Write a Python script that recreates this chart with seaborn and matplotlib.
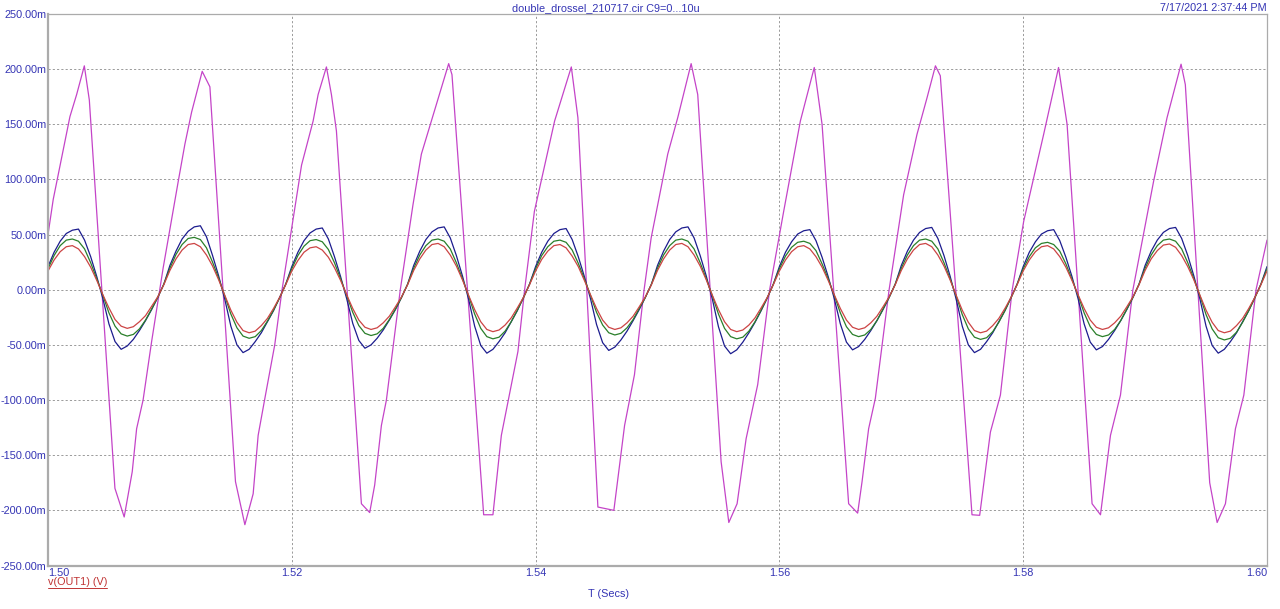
import numpy as np
import pandas as pd
import matplotlib
matplotlib.use("Agg")
import matplotlib.pyplot as plt
from matplotlib.lines import Line2D
import seaborn as sns

# ---------------- data (values in mV, time in s) ----------------
title_text = "double_drossel_210717.cir C9=0...10u"
date_text = "7/17/2021 2:37:44 PM"
x_label = "T (Secs)"
y_label = "v(OUT1) (V)"

x_ticks = [1.50, 1.52, 1.54, 1.56, 1.58, 1.60]
x_tick_labels = ["1.50", "1.52", "1.54", "1.56", "1.58", "1.60"]
y_ticks = [-250, -200, -150, -100, -50, 0, 50, 100, 150, 200, 250]

# small curves sampled every 0.5 ms from 1.500 s to 1.600 s (one row per 10 ms period)
t_grid = np.linspace(1.50, 1.60, 201)

blue_vals = [
    21, 34, 44, 51, 54, 55, 45, 30, 12, -8, -31, -47, -54, -51, -45, -37, -28, -18, -7, 5,
    22, 35, 46, 53, 57, 58, 48, 31, 12.5, -8.5, -33, -50, -57, -54, -47, -39, -29, -19, -7, 5,
    21, 34, 44.5, 51.5, 55, 56, 46, 30, 12, -8, -30.5, -46, -53, -50, -44, -36.5, -27.5, -18, -7, 5,
    22, 35, 45.5, 52.5, 56, 57, 47, 31, 12.5, -8.5, -33, -50.5, -57.5, -54, -47, -39, -29, -19, -7, 5,
    21, 34, 44, 51, 54.5, 55.5, 45.5, 30, 12, -8, -31.5, -48, -55, -52, -45.5, -37.5, -28, -18, -7, 5,
    22, 35, 45.5, 52.5, 56, 57, 47, 31, 12.5, -8.5, -33.5, -51, -58, -54.5, -47.5, -39, -29.5, -19, -7.5, 5,
    21, 34, 43.5, 50.5, 53.5, 54.5, 44.5, 29.5, 12, -8, -31, -47.5, -54.5, -51.5, -45, -37, -28, -18, -7, 5,
    22, 35, 45, 52, 55.5, 56.5, 46.5, 31, 12.5, -8.5, -33, -50, -57, -54, -47, -39, -29, -19, -7, 5,
    21, 34, 43.5, 50.5, 53.5, 54.5, 44.5, 29.5, 12, -8, -31, -47.5, -54.5, -51.5, -45, -37, -28, -18, -7, 5,
    22, 35, 45, 52, 55.5, 56.5, 46.5, 31, 12.5, -8.5, -33, -50.5, -57.5, -54, -47, -39, -29, -19, -7, 5,
    21,
]

green_vals = [
    19, 31, 40, 45, 46, 44, 37, 24.5, 10, -5, -21, -33, -40, -42, -40.5, -35.5, -27.5, -17.5, -7, 5,
    19.5, 32, 41, 46.5, 47.5, 45.5, 38, 25, 10.5, -5.5, -22, -34.5, -42, -44, -42.5, -37, -28.5, -18.5, -7.5, 5,
    19, 31, 39.5, 44.5, 45.5, 43.5, 36.5, 24.5, 10, -5, -20.5, -32.5, -39.5, -41.5, -40, -35, -27, -17.5, -7, 5,
    19.5, 31.5, 40, 45, 46, 44, 37, 24.5, 10, -5.5, -22, -35, -42.5, -44.5, -43, -37.5, -29, -18.5, -7.5, 5,
    19, 31, 39, 44, 45, 43, 36, 24, 10, -5, -20.5, -32, -39, -41, -39.5, -34.5, -27, -17, -7, 5,
    19.5, 31.5, 40, 45, 46, 44, 37, 24.5, 10, -5.5, -22, -35, -42.5, -44.5, -43, -37.5, -29, -18.5, -7.5, 5,
    19, 30.5, 38.5, 43, 44, 42, 35.5, 23.5, 10, -5, -21, -33.5, -40.5, -42.5, -41, -36, -28, -17.5, -7, 5,
    19.5, 31.5, 40, 45, 46, 44, 37, 24.5, 10, -5.5, -22.5, -35.5, -43, -45, -43.5, -38, -29.5, -19, -7.5, 5,
    19, 30, 38, 42, 43, 41, 35, 23.5, 9.5, -5, -21, -33.5, -40.5, -42.5, -41, -36, -28, -17.5, -7, 5,
    19.5, 31.5, 40, 45, 46, 44, 37, 24.5, 10, -5.5, -22.5, -35.5, -43.5, -45.5, -44, -38.5, -29.5, -19, -7.5, 5,
    19,
]

red_vals = [
    17, 27, 34.5, 39, 40, 37, 30, 20.5, 8.5, -4.5, -16.5, -27, -33, -35, -33.5, -29, -23.5, -15, -6.5, 4.5,
    17.5, 28, 36, 41, 42, 39, 31.5, 21.5, 9, -5, -18.5, -29.5, -37, -39, -37.5, -32.5, -26, -17, -7, 4.5,
    17, 26.5, 34, 38, 39, 36, 29.5, 20, 8.5, -4.5, -17, -27.5, -34, -36, -34.5, -30, -24, -15.5, -6.5, 4.5,
    17.5, 28, 36, 41, 42, 39, 31.5, 21.5, 9, -5, -18, -29, -36, -38, -36.5, -32, -25.5, -16.5, -7, 4.5,
    17, 27.5, 35, 40, 41, 38, 30.5, 21, 8.5, -4.5, -17, -27.5, -34, -36, -34.5, -30, -24, -15.5, -6.5, 4.5,
    17.5, 28, 36, 41, 42, 39, 31.5, 21.5, 9, -5, -18, -29, -36, -38, -36.5, -32, -25.5, -16.5, -7, 4.5,
    17, 27, 34.5, 39, 40, 37, 30, 20.5, 8.5, -4.5, -17, -27.5, -34, -36, -34.5, -30, -24, -15.5, -6.5, 4.5,
    17.5, 28, 36, 41, 42, 39, 31.5, 21.5, 9, -5, -18.5, -29.5, -37, -39, -37.5, -32.5, -26, -17, -7, 4.5,
    17, 27, 34.5, 39, 40, 37, 30, 20.5, 8.5, -4.5, -17, -27.5, -34, -36, -34.5, -30, -24, -15.5, -6.5, 4.5,
    17.5, 28, 35.5, 40.5, 41.5, 38.5, 31, 21, 9, -5, -18.5, -29.5, -37, -39, -37.5, -32.5, -26, -17, -7, 4.5,
    17,
]

# magenta trace: simulator vertices (ms after 1.500 s) and values (mV)
magenta_ms = [
    0, 0.43, 1.8, 2.35, 2.98, 3.39, 5.49, 6.25, 6.91, 7.27, 7.8, 8.5, 9.45,
    10.68, 11.23, 11.78, 12.65, 13.28, 15.38, 16.15, 16.83, 17.24, 17.79, 18.6, 19.2,
    20.8, 21.75, 22.16, 22.84, 23.25, 23.66, 25.71, 26.39, 26.8, 27.35, 27.76, 28.9,
    29.94, 30.63, 31.86, 32.87, 33.14, 33.63, 35.74, 36.5, 37.19, 38.55, 39.1,
    39.9, 41.56, 42.93, 43.47, 45.11, 46.42, 47.3, 48.11, 48.9,
    49.48, 50.84, 51.66, 52.76, 53.3, 55.22, 55.85, 56.53, 57.27, 58.22, 59.2,
    60.35, 61.72, 62.86, 63.5, 65.68, 66.42, 66.78, 67.32, 67.87, 69.0,
    70.19, 71.29, 72.11, 72.8, 73.2, 75.8, 76.43, 77.31, 78.13, 79.1,
    80.04, 81.68, 82.9, 83.6, 85.65, 86.34, 87.16, 87.98, 89.0,
    90.7, 91.8, 92.95, 93.3, 95.3, 95.91, 96.59, 97.41, 98.1, 99.1, 100.0,
]
magenta_vals = [
    50, 82, 157, 177, 203, 172, -180, -206, -165, -126, -100, -47, 20,
    98, 132, 161, 198, 184, -174, -213, -185, -132, -98.5, -50, 0,
    113, 153, 177, 202, 177, 144, -194, -202, -177, -123, -100, 0,
    77, 123, 168, 205, 195, 120, -204, -204, -132, -56, 0,
    71, 153, 202, 156, -197, -200, -123, -77, 0,
    47, 123, 156, 205, 177, -156, -211, -194, -135, -86, 0,
    71, 153, 201.5, 150, -194, -202.5, -174, -126, -98.5, 0,
    86, 141, 174, 203, 194, -204, -204.5, -129, -95.5, 0,
    62, 141, 201.5, 150, -194, -204, -132, -95.5, 0,
    98.5, 156, 204.5, 186, -175, -211, -194, -126, -95.5, 0, 45,
]

colors = {
    "magenta": "#c444c8",
    "blue": "#1c1c8e",
    "green": "#2a7f2a",
    "red": "#cc4444",
}
label_blue = "#3434b4"

# ---------------- build frames ----------------
frames = [
    pd.DataFrame({"t": 1.50 + np.array(magenta_ms) / 1000.0, "v": magenta_vals, "s": "magenta"}),
    pd.DataFrame({"t": t_grid, "v": blue_vals, "s": "blue"}),
    pd.DataFrame({"t": t_grid, "v": green_vals, "s": "green"}),
    pd.DataFrame({"t": t_grid, "v": red_vals, "s": "red"}),
]

sns.set_theme(style="white")
plt.rcParams["font.family"] = ["Liberation Sans", "DejaVu Sans"]

W, H = 1280, 609
fig = plt.figure(figsize=(W / 100, H / 100), dpi=100)
left, right, top, bottom = 48, 1267, 14, 565.5
ax = fig.add_axes([left / W, 1 - bottom / H, (right - left) / W, (bottom - top) / H])

for df in frames:
    name = df["s"].iloc[0]
    sns.lineplot(data=df, x="t", y="v", estimator=None, sort=False, color=colors[name],
                 lw=0.9, ax=ax, legend=False)

ax.set_xlim(1.50, 1.60)
ax.set_ylim(-250, 250)
ax.set_xticks(x_ticks)
ax.set_xticklabels(x_tick_labels)
ax.set_yticks(y_ticks)
ax.set_yticklabels([f"{v:.2f}m" for v in y_ticks])
ax.set_xlabel("")
ax.set_ylabel("")

ax.grid(True, color="#9a9a9a", linestyle=(0, (2.2, 2.2)), linewidth=0.7)
ax.set_axisbelow(True)
ax.tick_params(length=0, labelsize=7.8, labelcolor=label_blue, pad=2)
ax.tick_params(axis="y", pad=1)
xl = ax.get_xticklabels()
xl[0].set_ha("left")
xl[-1].set_ha("right")

for sp in ax.spines.values():
    sp.set_color("#ababab")
    sp.set_linewidth(0.9)
ax.spines["left"].set_linewidth(1.6)
ax.spines["bottom"].set_linewidth(1.6)

fig.text(606 / W, 1 - 8 / H, title_text, ha="center", va="center", fontsize=7.8, color=label_blue)
fig.text(1267 / W, 1 - 8 / H, date_text, ha="right", va="center", fontsize=7.8, color=label_blue)
fig.text(608 / W, 1 - 594 / H, x_label, ha="center", va="center", fontsize=7.8, color=label_blue)
ylab = fig.text(48 / W, 1 - 582 / H, y_label, ha="left", va="center", fontsize=7.8, color="#c03434")

fig.canvas.draw()
bb = ylab.get_window_extent()
uy = bb.y0 - 0.5
fig.add_artist(Line2D([bb.x0 / W, bb.x1 / W], [uy / H, uy / H], color="#c03434", lw=0.7,
                      transform=fig.transFigure))

fig.savefig("out.png", dpi=100, facecolor="white")
